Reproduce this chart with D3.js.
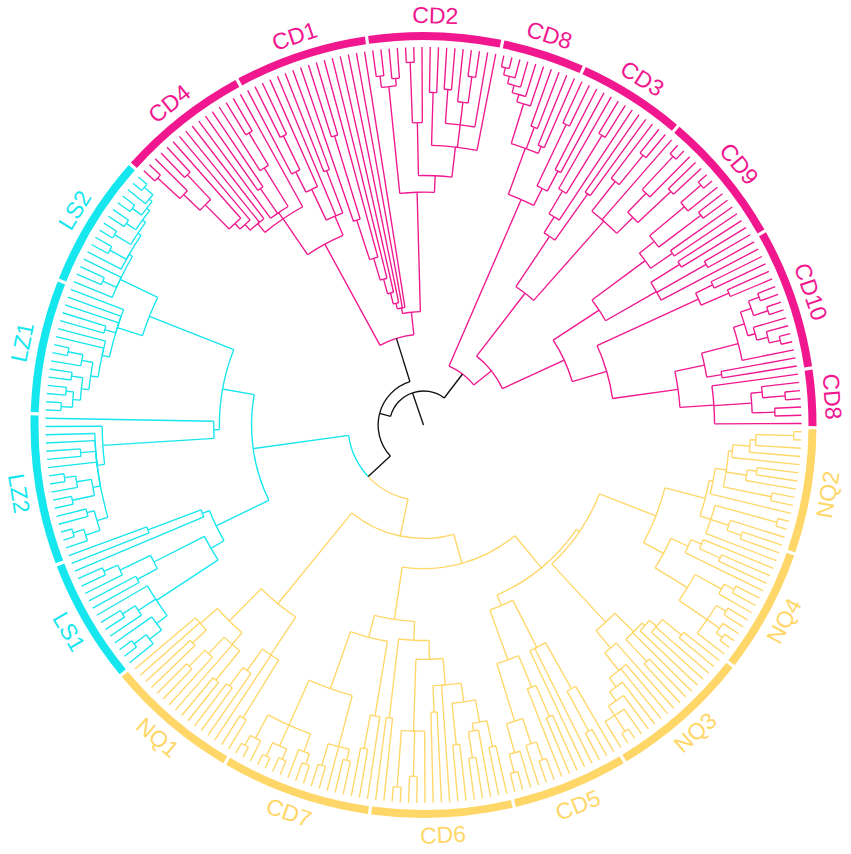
<!DOCTYPE html>
<html><head><meta charset="utf-8">
<script src="https://cdn.jsdelivr.net/npm/d3@7"></script>
<style>html,body{margin:0;padding:0;background:#fff}</style>
</head><body>
<svg id="chart" width="851" height="854"></svg>
<script>
// ---- groups around the circle (clockwise, starting at 3 o'clock) ----
const groupNames      = ["NQ2","NQ4","NQ3","CD5","CD6","CD7","NQ1","LS1","LZ2","LZ1","LS2","CD4","CD1","CD2","CD8","CD3","CD9","CD10","CD8"];
const groupLeafCounts = [15,15,17,14,17,18,16,15,18,16,16,16,16,16,10,13,16,17,7];
const groupClade      = ["y","y","y","y","y","y","y","c","c","c","c","m","m","m","m","m","m","m","m"];
const cladeKeys   = ["m","c","y"];
const cladeColors = ["#F0178F","#16E6EE","#FFD768"];
const startAngleDeg = 90.4;

// ---- tree (newick-like: x = leaf, number after ")" = node distance from root, letter = clade root) ----
const nq2a = "((((((x,x)98,x)88,x)86.5,x)82,((x,x)89,x)86.5,(x,x)94)81,x)78";
const nq2b = "((x,x)97,(x,(x,x)89)85,x)80";
const nq4  = "(((x,(x,x)86)80,x)77,(((x,x)93,x)90,((x,x)94,(x,(x,x)97)95,x)91)82)72";
const nq3a = "((((x,x)88,x,x)81.5,x)79,x,(x,x)86)78";
const nq3b = "(x,(x,x,(x,(x,(x,(x,x)97,x)92)89)86)83)77";
const cd5a = "((x,(x,x)92)80,x,x)66";
const cd5b = "(((x,x)84,x)75,(((x,x)94,x)89,(x,(x,x)95)90)82)66";
const cd6a = "((((x,x)87,(x,(x,x)89)82)80,(x,x)85)74,x,(x,x)76)69";
const cd6b = "(x,(x,x)93,(x,x)96)81";
const cd6c = "(x,x)78";
const cd7a = "(x,(x,x)87)78";
const cd7b = "((x,x)91,x,(x,x)94)88";
const cd7c = "(((x,x)95,x)92,((x,x)96,(x,x)97)93,(x,(x,x)97)94)87";
const nq1a = "((x,x)91,x,(x,(x,x)86)80)73";
const nq1b = "(((x,x)87,x,(x,(x,x)89)83)77,((x,x)84,x,x)79)73";
const ls1a = "((((x,(x,x)96)92,x)88,(x,(x,x)94)90,x)84.5,((x,x)86,(x,(x,x)93)89)80)65";
const ls1b = "(x,(x,x)78)63";
const lz2  = "(((x,(x,x)97)94,(x,x)92)90,((x,x)95,(x,(x,x)96)93)89,x,(x,x)91,x,x)87";
const lz1  = "((((((x,x)96,(x,x)95)93,(x,x)94)91,(x,(x,x)96)92)89,x,x)87,(x,x)88,x,x,x)85";
const ls2  = "(x,(x,x)93,x,(x,(x,x)95,((x,x)96,((x,x)95,((x,x)96,(x,(x,x)97)94)93)92)91)90)89";
const cd4a = "((((((x,x)96,x)88,(x,x)91)82,x)73,x)71,x,x)69";
const cd4b = "(x,(x,x)76,(x,(x,x)90)80)68";
const cd1a = "(((x,(x,x)85)75,x)69,x,(x,x)72)60";
const cd1b = "(((((x,(x,x)80)57,x)46,x)40,x)36,x)33";
const cd2a = "((x,x)93,(x,x)92)90";
const cd2b = "(((x,x)96,x)80,((x,x)88,((x,x)89,(x,(x,x)93)86,x)80,x)74)66";
const cd8a = "((((((x,x)97,x)95,x)93,x)91,x)89,(x,x)84,(x,x)80)78";
const cd3a = "((x,x)88,(x,x)76)70";
const cd3b = "(((x,(x,x)90)72,x)65,(x,x)75)60";
const cd9a = "((x,(x,x)92)82,x,(((x,x)97,x)85,(x,x)90)78)72";
const cd9b = "((((x,x)97,x)90,(x,x)92)78,(x,x)80)73";
const cd9c = "((x,x)80,(x,x)86,x)71";
const cd10a = "((x,x)85,(x,x)88)80";
const cd10b = "(((((x,x)95,(x,x)96)92,(x,(x,(x,x)97)94)91)89,x)86,(x,x)80)76";
const cd8b = "(x,((x,(x,x)96)90,(x,x)93)87,x)77";

const yellowClade = `((((((${nq2a},${nq2b})77,${nq4})66,(${nq3a},${nq3b})71)50,(${cd5a},${cd5b})52)49,(((${cd6a},${cd6b})62,${cd6c})57,(${cd7a},(${cd7b},${cd7c})74)58)52)38,(${nq1a},${nq1b})61)30y`;
const cyanClade   = `((${ls1a},${ls1b})61,(((${lz2},x)85,x)55.5,(${lz1},${ls2})78)54)45.5c`;
const magentaC    = `(((${cd4a},${cd4b},x)66,${cd1a})54.5m,((${cd1b},x,x)31.5,(${cd2a},${cd2b})61.6)30m)24`;
const magentaB    = `((${cd8a},${cd3a})65m,((${cd3b},${cd9a})44,((${cd9b},${cd9c})55.5,(${cd10a},(${cd10b},${cd8b})68)50.5)41)23m)17`;
const treeNewick  = `(((${yellowClade},${cyanClade})20,${magentaC})12,${magentaB})9`;
const tipDistance = 100;

// ---- parsing ----
function parseTree(s){
  let i = 0;
  function num(){ const m = /^[0-9.]+/.exec(s.slice(i)); if(!m) return null; i += m[0].length; return +m[0]; }
  function node(){
    if (s[i] === "("){
      i++;
      const children = [node()];
      while (s[i] === ","){ i++; children.push(node()); }
      i++; // ")"
      const dist = num();
      let tag = null;
      if (s[i] && /[mcy]/.test(s[i])){ tag = s[i]; i++; }
      return {children, dist, tag};
    }
    i++; // leaf "x"
    return {dist: null, tag: null};
  }
  return node();
}

const W = 851, H = 854, cx = 423.5, cy = 425;
const svg = d3.select("#chart");
const g = svg.append("g").attr("transform", `translate(${cx},${cy})`);

const root = d3.hierarchy(parseTree(treeNewick), d => d.children);
const leaves = root.leaves();
const N = leaves.length;
const toRad = Math.PI/180;
const angle = d3.scaleLinear().domain([0, N]).range([startAngleDeg*toRad, (startAngleDeg+360)*toRad]);
const radius = d3.scaleLinear().domain([0, tipDistance]).range([0, 378]);
const cladeColor = d3.scaleOrdinal().domain(cladeKeys).range(cladeColors);

leaves.forEach((l, i) => { l.a = angle(i + 0.5); });
root.eachAfter(n => {
  if (n.children) n.a = d3.mean(n.children, c => c.a);
  n.r = radius(n.data.dist == null ? tipDistance : n.data.dist);
});
root.eachBefore(n => {
  n.color = n.data.tag ? cladeColor(n.data.tag) : (n.parent ? n.parent.color : "#111111");
});

const px = (a, r) => r * Math.sin(a);
const py = (a, r) => -r * Math.cos(a);
const lw = 1.35;

// root stem
g.append("line")
  .attr("x1", 0).attr("y1", 0)
  .attr("x2", px(root.a, root.r)).attr("y2", py(root.a, root.r))
  .attr("stroke", "#111111").attr("stroke-width", lw);

// arcs (each internal node -> child angle), coloured by child
const arcSegs = [];
root.each(n => { if (n.children) n.children.forEach(c => arcSegs.push({n, c})); });
g.append("g").selectAll("path").data(arcSegs).join("path")
  .attr("d", d => {
    const p = d3.path();
    const r = d.n.r;
    p.moveTo(px(d.n.a, r), py(d.n.a, r));
    p.arc(0, 0, r, d.n.a - Math.PI/2, d.c.a - Math.PI/2, d.c.a < d.n.a);
    return p.toString();
  })
  .attr("fill", "none").attr("stroke", d => d.c.color).attr("stroke-width", lw);

// radial branches
g.append("g").selectAll("line").data(root.descendants().filter(n => n.parent)).join("line")
  .attr("x1", n => px(n.a, n.parent.r)).attr("y1", n => py(n.a, n.parent.r))
  .attr("x2", n => px(n.a, n.r)).attr("y2", n => py(n.a, n.r))
  .attr("stroke", n => n.color).attr("stroke-width", lw);

// group bars and labels
const groups = [];
let acc = 0;
groupNames.forEach((name, i) => {
  groups.push({name, s: acc, e: acc + groupLeafCounts[i], clade: groupClade[i]});
  acc += groupLeafCounts[i];
});
const gap = 1.6 / 389;
const barArc = d3.arc().innerRadius(385).outerRadius(393);
g.append("g").selectAll("path").data(groups).join("path")
  .attr("d", d => barArc({startAngle: angle(d.s) + gap, endAngle: angle(d.e) - gap}))
  .attr("fill", d => cladeColor(d.clade));

const labelR = 410;
g.append("g").selectAll("text").data(groups).join("text")
  .attr("transform", d => {
    const m = (angle(d.s) + angle(d.e)) / 2;
    let deg = ((m / toRad) % 360 + 360) % 360;
    const rot = (deg > 90 && deg < 270) ? deg - 180 : deg;
    return `translate(${px(m, labelR)},${py(m, labelR)}) rotate(${rot})`;
  })
  .attr("text-anchor", "middle")
  .attr("dy", "0.36em")
  .attr("font-family", "'Liberation Sans', Arial, sans-serif")
  .attr("font-size", 23)
  .attr("fill", d => cladeColor(d.clade))
  .text(d => d.name);
</script>
</body></html>
